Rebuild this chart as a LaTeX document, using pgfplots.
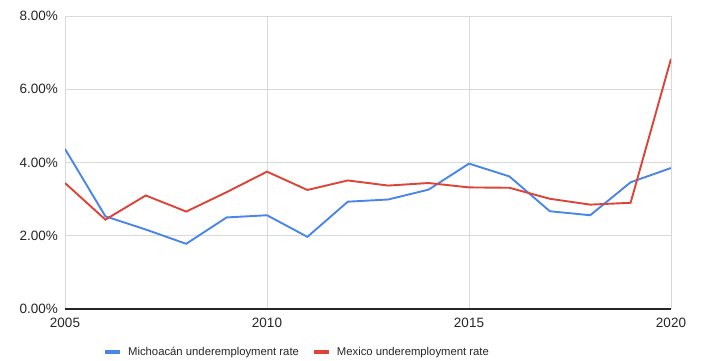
\documentclass[border=0pt]{standalone}
\usepackage{pgfplots}
\pgfplotsset{compat=1.18}
\usepackage{fontspec}
\setmainfont{Liberation Sans}
\definecolor{gblue}{HTML}{4A86E8}
\definecolor{gred}{HTML}{DB4437}
\definecolor{gridc}{HTML}{D9D9D9}
\definecolor{txt}{HTML}{262626}
\begin{document}
\begin{tikzpicture}
\useasboundingbox (0,0) rectangle (701pt,360pt);
\begin{axis}[
  at={(65pt,51pt)}, anchor=south west,
  scale only axis, width=606pt, height=293pt,
  xmin=2005, xmax=2020, ymin=0, ymax=8,
  xtick={2005,2010,2015,2020}, xticklabels={2005,2010,2015,2020},
  ytick={0,2,4,6,8}, yticklabels={0.00\%,2.00\%,4.00\%,6.00\%,8.00\%},
  major tick length=0pt,
  grid=major, major grid style={gridc, line width=0.9pt},
  axis line style={draw=none},
  tick label style={font=\fontsize{13.5}{15}\selectfont, text=txt},
  yticklabel style={inner sep=0pt, anchor=east, xshift=-7pt},
  xticklabel style={inner sep=0pt, anchor=north, yshift=-9pt},
  legend columns=2,
  legend style={at={(axis description cs:0.0627,-0.1468)}, anchor=west, draw=none, fill=none,
    inner sep=0pt, font=\fontsize{11.3}{13}\selectfont, text=txt,
    /tikz/every even column/.append style={column sep=13pt},
    nodes={inner sep=0pt, text=txt}},
  legend image code/.code={\draw[#1, line width=4pt] (-2pt,0pt) -- (13pt,0pt); \path (20pt,0pt);},
]
\addplot[gblue, line width=1.9pt] coordinates {
(2005,4.37) (2006,2.53) (2007,2.17) (2008,1.78) (2009,2.50) (2010,2.56) (2011,1.97) (2012,2.93)
(2013,2.99) (2014,3.26) (2015,3.97) (2016,3.62) (2017,2.67) (2018,2.56) (2019,3.46) (2020,3.85)};
\addlegendentry{Michoacán underemployment rate}
\addplot[gred, line width=1.9pt] coordinates {
(2005,3.44) (2006,2.44) (2007,3.10) (2008,2.66) (2009,3.19) (2010,3.75) (2011,3.25) (2012,3.51)
(2013,3.37) (2014,3.44) (2015,3.32) (2016,3.31) (2017,3.01) (2018,2.85) (2019,2.90) (2020,6.83)};
\addlegendentry{Mexico underemployment rate}
\draw[txt, line width=1.2pt] (axis cs:2005,0) -- (axis cs:2020,0);
\end{axis}
\end{tikzpicture}
\end{document}
